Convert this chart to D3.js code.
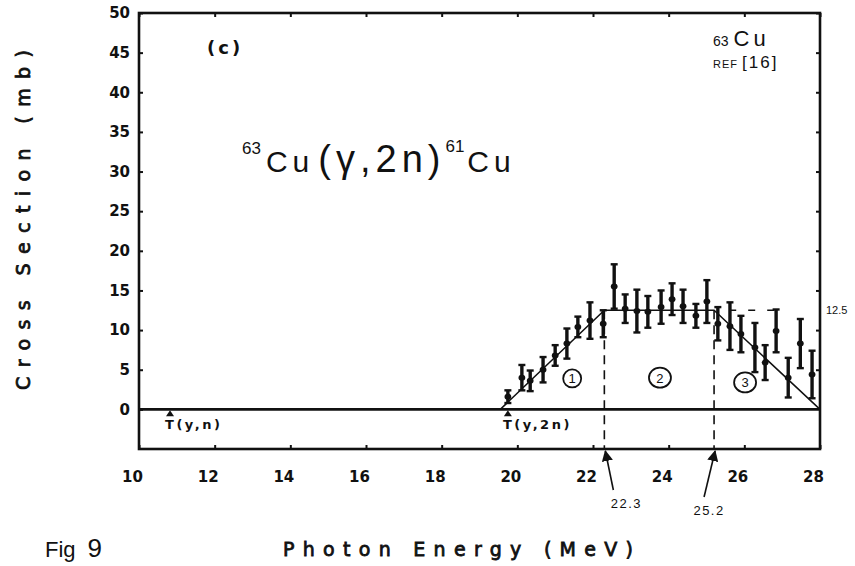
<!DOCTYPE html>
<html>
<head>
<meta charset="utf-8">
<script src="https://cdn.jsdelivr.net/npm/d3@7"></script>
<style>
  body { margin: 0; background: #fff; }
  svg { display: block; }
</style>
</head>
<body>
<div id="chart"></div>
<script>
const energies = [19.75, 20.12, 20.34, 20.68, 21.0, 21.31, 21.6, 21.92, 22.27,
                  22.56, 22.85, 23.16, 23.45, 23.8, 24.09, 24.38, 24.72, 25.01,
                  25.3, 25.62, 25.91, 26.28, 26.55, 26.84, 27.16, 27.48, 27.79];
// cross section (mb) and half error bar (mb)
const sigma = [1.6, 4.0, 3.6, 5.0, 6.8, 8.3, 10.4, 11.2, 10.8,
               15.5, 12.7, 12.4, 12.3, 12.9, 13.9, 13.0, 11.8, 13.6,
               10.8, 10.5, 9.5, 7.8, 5.9, 9.9, 4.0, 8.3, 4.4];
const sigmaErr = [0.8, 1.6, 1.3, 1.6, 1.3, 1.9, 1.3, 2.3, 1.7,
                  2.8, 1.8, 2.7, 2.0, 2.1, 2.0, 2.1, 1.5, 2.7,
                  2.1, 3.0, 2.3, 3.1, 2.2, 2.7, 2.5, 3.1, 3.0];

const xTicks = [10, 12, 14, 16, 18, 20, 22, 24, 26, 28];
const yTicks = [0, 5, 10, 15, 20, 25, 30, 35, 40, 45, 50];

// trapezoid fit: rise, plateau, fall
const fitE = [19.55, 22.3, 25.2, 28];
const fitS = [0, 12.5, 12.5, 0];
const plateau = 12.5;

const thresholdE = [10.82, 19.75];
const thresholdLabels = ["T(y,n)", "T(y,2n)"];
const boundaryE = [22.3, 25.2];
const regionLabels = ["1", "2", "3"];

const width = 855, height = 566;
const plotLeft = 139, plotRight = 820, plotTop = 13, plotBottom = 449;

const svg = d3.select("#chart").append("svg")
    .attr("width", width)
    .attr("height", height);

const x = d3.scaleLinear().domain([10, 28]).range([plotLeft, plotRight]);
const y = d3.scaleLinear().domain([-5, 50]).range([plotBottom, plotTop]);

const ink = "#111";
const plotFont = "'DejaVu Sans', sans-serif";
const handFont = "'Liberation Sans', sans-serif";

// frame
svg.append("rect")
    .attr("x", plotLeft).attr("y", plotTop)
    .attr("width", plotRight - plotLeft).attr("height", plotBottom - plotTop)
    .attr("fill", "none").attr("stroke", ink).attr("stroke-width", 2.6);

// zero line
svg.append("line")
    .attr("x1", plotLeft).attr("x2", plotRight)
    .attr("y1", y(0)).attr("y2", y(0))
    .attr("stroke", ink).attr("stroke-width", 2.6);

// inward ticks on all four sides
const tickLen = 4;
const leftAxis = d3.axisLeft(y).tickValues(yTicks).tickSize(-tickLen).tickFormat(d3.format("d")).tickPadding(9);
const gl = svg.append("g").attr("transform", `translate(${plotLeft},0)`).call(leftAxis);
const gr = svg.append("g").attr("transform", `translate(${plotRight},0)`)
    .call(d3.axisRight(y).tickValues(yTicks.slice(1)).tickSize(-tickLen).tickFormat(""));
const gb = svg.append("g").attr("transform", `translate(0,${plotBottom})`)
    .call(d3.axisBottom(x).tickValues(xTicks).tickSize(-tickLen).tickFormat(d3.format("d")).tickPadding(22));
const gt = svg.append("g").attr("transform", `translate(0,${plotTop})`)
    .call(d3.axisTop(x).tickValues(xTicks).tickSize(-tickLen).tickFormat(""));

[gl, gr, gb, gt].forEach(g => {
    g.select(".domain").remove();
    g.selectAll(".tick line").attr("stroke", ink).attr("stroke-width", 2);
});
gl.selectAll(".tick text")
    .attr("fill", ink)
    .style("font-family", plotFont).style("font-size", "15px").style("font-weight", "bold");
gb.selectAll(".tick text")
    .attr("fill", ink).attr("dx", -7)
    .style("font-family", plotFont).style("font-size", "15px").style("font-weight", "bold");

// dashed region boundaries
svg.selectAll(".boundary")
    .data(boundaryE)
    .enter().append("line")
    .attr("class", "boundary")
    .attr("x1", d => x(d)).attr("x2", d => x(d))
    .attr("y1", y(plateau)).attr("y2", y(-5))
    .attr("stroke", ink).attr("stroke-width", 1.6)
    .attr("stroke-dasharray", "9,6");

// short dashed guide at the plateau value
svg.append("line")
    .attr("x1", x(25.6)).attr("x2", x(26.8))
    .attr("y1", y(plateau)).attr("y2", y(plateau))
    .attr("stroke", ink).attr("stroke-width", 1.4)
    .attr("stroke-dasharray", "7,12");

// fit line
svg.append("path")
    .datum(fitE.map((e, i) => [e, fitS[i]]))
    .attr("d", d3.line().x(d => x(d[0])).y(d => y(d[1])))
    .attr("fill", "none").attr("stroke", ink).attr("stroke-width", 1.5);

// error bars
const pts = energies.map((e, i) => ({ e, s: sigma[i], err: sigmaErr[i] }));
const bars = svg.selectAll(".bar").data(pts).enter().append("g").attr("class", "bar");
bars.append("line")
    .attr("x1", d => x(d.e)).attr("x2", d => x(d.e))
    .attr("y1", d => y(d.s + d.err)).attr("y2", d => y(d.s - d.err))
    .attr("stroke", ink).attr("stroke-width", 3.4);
bars.append("line")
    .attr("x1", d => x(d.e) - 3.5).attr("x2", d => x(d.e) + 3.5)
    .attr("y1", d => y(d.s + d.err)).attr("y2", d => y(d.s + d.err))
    .attr("stroke", ink).attr("stroke-width", 2.4);
bars.append("line")
    .attr("x1", d => x(d.e) - 3.5).attr("x2", d => x(d.e) + 3.5)
    .attr("y1", d => y(d.s - d.err)).attr("y2", d => y(d.s - d.err))
    .attr("stroke", ink).attr("stroke-width", 2.4);
bars.append("ellipse")
    .attr("cx", d => x(d.e)).attr("cy", d => y(d.s))
    .attr("rx", 3.4).attr("ry", 3)
    .attr("fill", ink);

// threshold markers
thresholdE.forEach((e, i) => {
    const tx = x(e);
    svg.append("path")
        .attr("d", `M${tx},${y(0) + 1} l-4,6 l8,0 z`)
        .attr("fill", ink);
    svg.append("text")
        .attr("x", tx - 5).attr("y", y(0) + 20)
        .attr("fill", ink)
        .style("font-family", plotFont).style("font-size", "13px").style("font-weight", "bold")
        .style("letter-spacing", "2.5px")
        .text(thresholdLabels[i]);
});

// arrows pointing at region boundaries below the axis
const arrowDefs = svg.append("defs");
arrowDefs.append("marker")
    .attr("id", "head").attr("viewBox", "0 0 10 10")
    .attr("refX", 9).attr("refY", 5)
    .attr("markerWidth", 7).attr("markerHeight", 7)
    .attr("orient", "auto-start-reverse")
    .append("path").attr("d", "M0,0 L10,5 L0,10 z").attr("fill", ink);

const arrowTail = [[9, 41], [-10, 48]];
const arrowText = [[22, 59], [-5, 66]];
boundaryE.forEach((e, i) => {
    const bx = x(e);
    svg.append("line")
        .attr("x1", bx + arrowTail[i][0]).attr("y1", plotBottom + arrowTail[i][1])
        .attr("x2", bx + 1).attr("y2", plotBottom + 2)
        .attr("stroke", ink).attr("stroke-width", 1.6)
        .attr("marker-end", "url(#head)");
    svg.append("text")
        .attr("x", bx + arrowText[i][0]).attr("y", plotBottom + arrowText[i][1])
        .attr("text-anchor", "middle").attr("fill", ink)
        .style("font-family", handFont).style("font-size", "13px")
        .style("letter-spacing", "1.5px")
        .text(e.toFixed(1));
});

// circled region numbers
const regionAt = [[21.45, 3.9], [23.77, 4.0], [26.02, 3.4]];
regionLabels.forEach((t, i) => {
    const cx = x(regionAt[i][0]), cy = y(regionAt[i][1]);
    svg.append("ellipse")
        .attr("cx", cx).attr("cy", cy).attr("rx", i === 0 ? 9 : 11).attr("ry", i === 0 ? 9 : 10)
        .attr("fill", "none").attr("stroke", ink).attr("stroke-width", 1.8);
    svg.append("text")
        .attr("x", cx).attr("y", cy + 5)
        .attr("text-anchor", "middle").attr("fill", ink)
        .style("font-family", handFont).style("font-size", "13px")
        .text(t);
});

// plateau value on the right
svg.append("text")
    .attr("x", plotRight + 6).attr("y", y(plateau) + 4)
    .attr("fill", ink)
    .style("font-family", handFont).style("font-size", "11px")
    .text("12.5");

// panel tag
svg.append("text")
    .attr("x", 207).attr("y", 54)
    .attr("fill", ink)
    .style("font-family", plotFont).style("font-size", "18px").style("font-weight", "bold")
    .style("letter-spacing", "3px")
    .text("(c)");

// isotope and reference
const iso = svg.append("text").attr("x", 713).attr("y", 46).attr("fill", ink)
    .style("font-family", handFont);
iso.append("tspan").style("font-size", "14px").text("63");
iso.append("tspan").attr("dx", 5).style("font-size", "22px").style("letter-spacing", "4px").text("Cu");

const ref = svg.append("text").attr("x", 713).attr("y", 68).attr("fill", ink)
    .style("font-family", handFont);
ref.append("tspan").style("font-size", "11px").style("letter-spacing", "1px").text("REF");
ref.append("tspan").attr("dx", 4).style("font-size", "17px").style("letter-spacing", "2px").text("[16]");

// reaction, written by hand in the original
const rx = svg.append("text").attr("x", 242).attr("y", 172).attr("fill", ink)
    .style("font-family", handFont);
rx.append("tspan").attr("dy", -18).style("font-size", "17px").text("63");
rx.append("tspan").attr("dy", 18).attr("dx", 5).style("font-size", "30px").style("letter-spacing", "5px").text("Cu");
rx.append("tspan").attr("dx", 4).style("font-size", "38px").style("letter-spacing", "5px").text("(γ,2n)");
rx.append("tspan").attr("dy", -20).style("font-size", "17px").text("61");
rx.append("tspan").attr("dy", 20).attr("dx", 3).style("font-size", "30px").style("letter-spacing", "5px").text("Cu");

// axis titles
svg.append("text")
    .attr("x", 283).attr("y", 556)
    .attr("fill", ink)
    .attr("textLength", 350).attr("lengthAdjust", "spacing")
    .style("font-family", plotFont).style("font-size", "19px")
    .style("stroke", ink).style("stroke-width", 0.8)
    .text("Photon Energy (MeV)");

svg.append("text")
    .attr("transform", "translate(30,390) rotate(-90)")
    .attr("fill", ink)
    .attr("textLength", 340).attr("lengthAdjust", "spacing")
    .style("font-family", plotFont).style("font-size", "19px")
    .style("stroke", ink).style("stroke-width", 0.8)
    .text("Cross Section (mb)");

// figure number
const fig = svg.append("text")
    .attr("x", 45).attr("y", 557)
    .attr("fill", ink)
    .style("font-family", handFont);
fig.append("tspan").style("font-size", "22px").text("Fig");
fig.append("tspan").attr("dx", 12).style("font-size", "26px").text("9");
</script>
</body>
</html>
